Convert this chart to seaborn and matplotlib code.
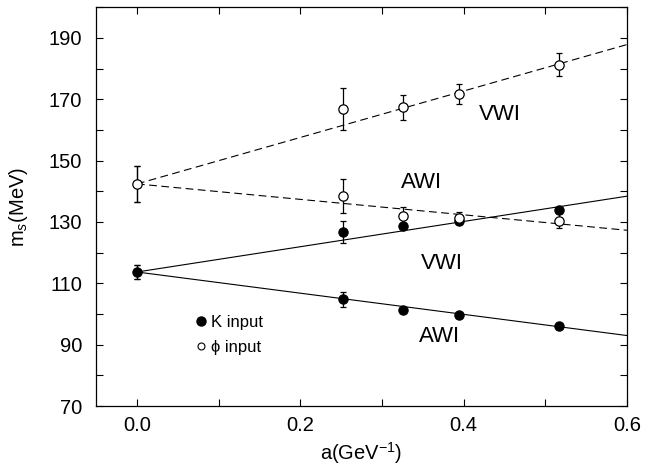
import numpy as np
import pandas as pd
import seaborn as sns
import matplotlib
matplotlib.use("Agg")
import matplotlib.pyplot as plt
from matplotlib.lines import Line2D
from matplotlib.ticker import MultipleLocator

# lattice spacing a (GeV^-1)
a_vals = [0.0, 0.2527, 0.326, 0.394, 0.517]

# K input (filled), VWI and AWI
k_vwi = [113.7, 126.7, 128.8, 130.3, 133.8]
k_vwi_err = [2.3, 3.7, 1.0, 1.0, 1.0]
k_awi = [113.7, 104.8, 101.2, 99.8, 96.2]
k_awi_err = [2.3, 2.5, 1.0, 1.0, 1.0]

# phi input (open), VWI and AWI
phi_vwi = [142.4, 166.8, 167.4, 171.6, 181.3]
phi_vwi_err = [5.9, 6.7, 4.1, 3.2, 3.6]
phi_awi = [142.4, 138.4, 132.1, 131.4, 130.4]
phi_awi_err = [5.9, 5.5, 2.9, 1.9, 2.4]

# straight-line fits, values at a=0 and a=0.6
fit_a = [0.0, 0.6]
fit_k_vwi = [113.7, 138.4]
fit_k_awi = [113.7, 93.0]
fit_phi_vwi = [142.4, 187.8]
fit_phi_awi = [142.4, 127.3]

x_ticks = [0.0, 0.2, 0.4, 0.6]
y_ticks = [70, 90, 110, 130, 150, 170, 190]

sns.set_style("ticks")
plt.rcParams['font.family'] = ['Liberation Sans', 'DejaVu Sans']
plt.rcParams['mathtext.fontset'] = 'custom'
plt.rcParams['mathtext.rm'] = 'Liberation Sans'
plt.rcParams['mathtext.it'] = 'Liberation Sans:italic'
for key in ['text.color', 'axes.labelcolor', 'xtick.color', 'ytick.color', 'axes.edgecolor']:
    plt.rcParams[key] = 'black'

fig = plt.figure(figsize=(6.45, 4.75), dpi=100)
ax = fig.add_axes([0.149, 0.145, 0.823, 0.840])

# fit lines
for ys, ls in [(fit_k_vwi, '-'), (fit_k_awi, '-'), (fit_phi_vwi, '--'), (fit_phi_awi, '--')]:
    ax.plot(fit_a, ys, color='black', lw=0.8, ls=ls, dashes=(7, 4) if ls == '--' else (None, None), zorder=1)

# error bars
for ys, es in [(k_vwi, k_vwi_err), (k_awi, k_awi_err), (phi_vwi, phi_vwi_err), (phi_awi, phi_awi_err)]:
    ax.errorbar(a_vals, ys, yerr=es, fmt='none', ecolor='black', elinewidth=0.9, capsize=2.5, capthick=0.9, zorder=2)

k_df = pd.DataFrame({'a': a_vals + a_vals[1:], 'ms': k_vwi + k_awi[1:]})
phi_df = pd.DataFrame({'a': a_vals + a_vals[1:], 'ms': phi_vwi + phi_awi[1:]})
sns.scatterplot(data=k_df, x='a', y='ms', ax=ax, color='black', edgecolor='black', s=45, linewidth=0.8, zorder=3)
sns.scatterplot(data=phi_df, x='a', y='ms', ax=ax, color='white', edgecolor='black', s=45, linewidth=0.9, zorder=3)

ax.set_xlim(-0.05, 0.6)
ax.set_ylim(70, 200)
ax.set_xticks(x_ticks)
ax.set_xticklabels([f'{v:.1f}' for v in x_ticks])
ax.set_yticks(y_ticks)
ax.xaxis.set_minor_locator(MultipleLocator(0.1))
ax.yaxis.set_minor_locator(MultipleLocator(10))
ax.tick_params(which='both', direction='in', top=True, right=True, length=5, width=0.8, labelsize=14.5)
ax.tick_params(axis='x', pad=7)
ax.tick_params(axis='y', pad=10)
for sp in ax.spines.values():
    sp.set_linewidth(0.9)

ax.set_xlabel('a(GeV$^{-1}$)', fontsize=14.5, labelpad=4)
ax.set_ylabel('m$_s$(MeV)', fontsize=14.5)
ax.yaxis.set_label_coords(-0.125, 0.5)

txt = dict(fontsize=16, ha='center', va='center')
ax.text(0.445, 165.0, 'VWI', **txt)
ax.text(0.349, 142.8, 'AWI', **txt)
ax.text(0.373, 116.5, 'VWI', **txt)
ax.text(0.370, 92.6, 'AWI', **txt)

handles = [Line2D([], [], ls='none', marker='o', ms=6.5, mfc='black', mec='black'),
           Line2D([], [], ls='none', marker='o', ms=5, mfc='white', mec='black', mew=0.8)]
ax.legend(handles, ['K input', 'ϕ input'], loc='upper left', bbox_to_anchor=(0.175, 0.245),
          frameon=False, fontsize=12, handlelength=0.6, handletextpad=0.3, labelspacing=0.6,
          borderaxespad=0)

fig.savefig('out.png', dpi=100)
